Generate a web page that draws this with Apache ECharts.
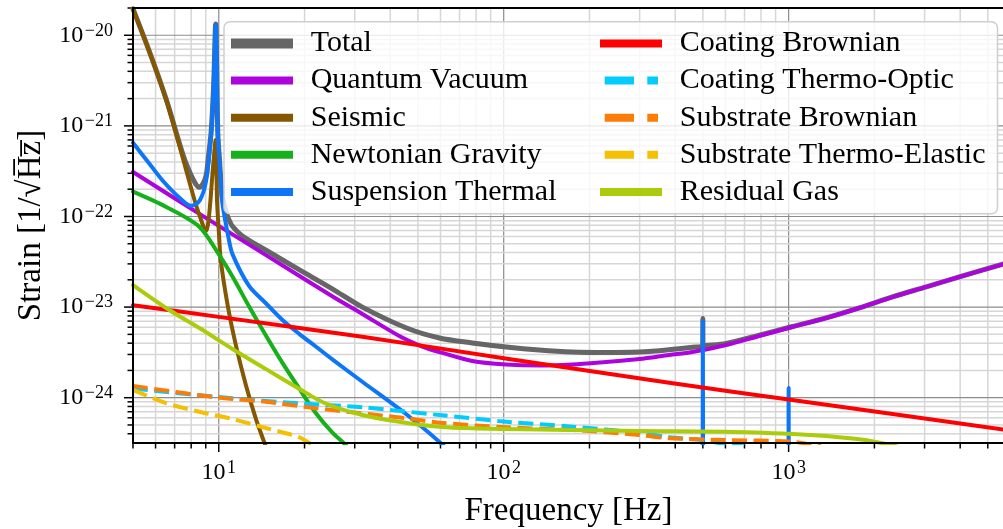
<!DOCTYPE html>
<html>
<head>
<meta charset="utf-8">
<script src="https://cdn.jsdelivr.net/npm/echarts@6/dist/echarts.min.js"></script>
<style>
  html, body { margin: 0; padding: 0; background: #ffffff; }
  #chart { width: 1003px; height: 529px; }
</style>
</head>
<body>
<div id="chart"></div>
<script>
// Noise budget: strain amplitude spectral density of each noise source [1/sqrt(Hz)] vs frequency [Hz]
const FONT = "'Liberation Serif', 'DejaVu Serif', serif";

const freqRange = [5, 5700];
const strainRange = [Math.pow(10, -24.5), 2e-20];

// Axis ticks (log scale): decades and the 2..9 subdivisions
const majorFreqTicks = [10, 100, 1000];
const minorFreqTicks = [5, 6, 7, 8, 9, 20, 30, 40, 50, 60, 70, 80, 90,
  200, 300, 400, 500, 600, 700, 800, 900, 2000, 3000, 4000, 5000];
const majorStrainTicks = [1e-24, 1e-23, 1e-22, 1e-21, 1e-20];
const minorStrainTicks = [4e-25, 5e-25, 6e-25, 7e-25, 8e-25, 9e-25,
  2e-24, 3e-24, 4e-24, 5e-24, 6e-24, 7e-24, 8e-24, 9e-24,
  2e-23, 3e-23, 4e-23, 5e-23, 6e-23, 7e-23, 8e-23, 9e-23,
  2e-22, 3e-22, 4e-22, 5e-22, 6e-22, 7e-22, 8e-22, 9e-22,
  2e-21, 3e-21, 4e-21, 5e-21, 6e-21, 7e-21, 8e-21, 9e-21, 2e-20];

// Noise curves: [frequency, strain]; '-' breaks a line
const total = [[5, 1.96e-20], [5.71, 6.6e-21], [6.54, 1.96e-21], [7.28, 6.4e-22], [7.68, 3.85e-22],
  [8.22, 2.4e-22], [8.55, 2.1e-22], [8.8, 2.3e-22], [9.03, 2.85e-22], [9.2, 4.6e-22],
  [9.4, 8.5e-22], [9.6, 2.95e-21], [9.75, 1.33e-20], [9.92, 8.5e-22], [10.05, 4.4e-22],
  [10.28, 1.7e-22], [10.56, 1.2e-22], [10.8, 9.6e-23], [11.17, 7.8e-23], [12.1, 6.1e-23],
  [14.6, 4.27e-23], [19.2, 2.57e-23], [25.1, 1.58e-23], [31.9, 1.0e-23], [45.6, 5.88e-24],
  [59.5, 4.56e-24], [77.6, 4.02e-24], [102, 3.63e-24], [133, 3.36e-24], [174, 3.19e-24],
  [229, 3.15e-24], [299, 3.19e-24], [352, 3.3e-24], [459, 3.6e-24], [499.3, 3.72e-24],
  [500, 7.5e-24], [500.7, 3.73e-24], [604, 3.98e-24], [789, 4.9e-24], [1030, 6.1e-24],
  [1355, 7.62e-24], [1770, 9.82e-24], [2312, 1.295e-23], [3043, 1.675e-23], [3972, 2.155e-23],
  [5700, 3.0e-23]];

const quantumVacuum = [[5, 3.1e-22], [8.55, 1.07e-22], [14.6, 3.77e-23], [25.1, 1.31e-23],
  [31.9, 8.4e-24], [43, 4.8e-24], [51.8, 3.67e-24], [59.5, 3.19e-24], [77.6, 2.54e-24],
  [102, 2.32e-24], [133, 2.26e-24], [174, 2.32e-24], [229, 2.48e-24], [299, 2.67e-24],
  [381, 2.96e-24], [459, 3.19e-24], [604, 3.82e-24], [789, 4.8e-24], [1030, 6.03e-24],
  [1355, 7.57e-24], [1770, 9.77e-24], [2312, 1.29e-23], [3043, 1.67e-23], [3972, 2.15e-23],
  [5700, 2.99e-23]];

const seismic = [[5, 1.95e-20], [5.71, 6.55e-21], [6.54, 1.93e-21], [7.28, 6.0e-22],
  [7.68, 3.26e-22], [8.22, 1.52e-22], [8.55, 1.04e-22], [9.02, 6.9e-23], [9.24, 1.0e-22],
  [9.5, 2.9e-22], [9.75, 7.0e-22], [9.86, 1.5e-22], [10.02, 6.3e-23], [10.16, 3.3e-23],
  [10.73, 1.07e-23], [11.47, 3.85e-24], [12.44, 1.39e-24], [13.48, 5.9e-25],
  [14.43, 3.24e-25], [15.3, 2.0e-25]];

const newtonianGravity = [[5, 1.88e-22], [6.52, 1.28e-22], [8.54, 7.71e-23], [10.03, 3.76e-23],
  [11.17, 2.17e-23], [12.79, 1.01e-23], [14.6, 4.92e-24], [16.73, 2.42e-24], [19.1, 1.28e-24],
  [21.9, 6.78e-25], [25.1, 4.08e-25], [27.9, 3.0e-25], [30, 2.2e-25]];

const suspensionThermal = [[5, 6.5e-22], [5.71, 3.82e-22], [6.36, 2.48e-22], [7.28, 1.61e-22],
  [8.0, 1.31e-22], [8.55, 1.48e-22], [9.03, 2.48e-22], [9.4, 8.2e-22], [9.6, 2.9e-21],
  [9.75, 1.31e-20], [9.92, 8.2e-22], [10.05, 4.3e-22], [10.28, 1.45e-22], [10.8, 6.0e-23],
  [11.17, 3.84e-23], [12.79, 1.7e-23], [14.6, 1.11e-23], [16.73, 7.2e-24], [19.1, 5.1e-24],
  [21.9, 3.67e-24], [25.1, 2.63e-24], [31.9, 1.5e-24], [45.4, 6.6e-25],
  [59.5, 3.25e-25], [70, 2.0e-25], ['-', '-'],
  [499.3, 2.8e-25], [500, 6.9e-24], [500.7, 2.8e-25], ['-', '-'],
  [999.3, 2.8e-25], [1000, 1.28e-24], [1000.7, 2.8e-25]];

const coatingBrownian = [[5, 1.05e-23], [10, 7.8e-24], [31.9, 4.71e-24], [100, 2.73e-24],
  [381, 1.46e-24], [1000, 9.55e-25], [5700, 4.45e-25]];

const coatingThermoOptic = [[5, 1.26e-24], [11.17, 9.84e-25], [19.1, 8.67e-25], [31.9, 7.83e-25],
  [59.5, 6.44e-25], [102, 5.43e-25], [174, 4.79e-25], [299, 4.11e-25], [381, 3.66e-25],
  [500, 3.41e-25], [570, 3.16e-25], [700, 2.9e-25]];

const substrateBrownian = [[5, 1.35e-24], [9.76, 1.01e-24], [14.6, 9.03e-25], [21.9, 7.64e-25],
  [29.4, 6.9e-25], [45.4, 5.93e-25], [59.5, 5.3e-25], [102, 4.71e-25], [174, 4.4e-25],
  [299, 3.88e-25], [381, 3.57e-25], [604, 3.41e-25], [1030, 3.27e-25], [1300, 2.9e-25]];

const substrateThermoElastic = [[5, 1.22e-24], [6.52, 8.73e-25], [8.54, 7.0e-25], [11.17, 5.82e-25],
  [14.6, 4.63e-25], [19.1, 3.68e-25], [20.8, 3.16e-25], [24, 2.6e-25]];

const residualGas = [[5, 1.75e-23], [6.7, 9.29e-24], [8.55, 5.88e-24], [11.17, 3.45e-24],
  [14.6, 2.08e-24], [19.2, 1.25e-24], [23.5, 8.74e-25], [31.9, 6.44e-25], [45.6, 5.26e-25],
  [59.5, 4.79e-25], [77.6, 4.59e-25], [102, 4.51e-25], [174, 4.4e-25], [299, 4.29e-25],
  [604, 4.22e-25], [1030, 3.98e-25], [1355, 3.78e-25], [1770, 3.47e-25], [2000, 3.27e-25],
  [2400, 2.9e-25]];

const legendLeftNames = ['Total', 'Quantum Vacuum', 'Seismic', 'Newtonian Gravity', 'Suspension Thermal'];
const legendRightNames = ['Coating Brownian', 'Coating Thermo-Optic', 'Substrate Brownian',
  'Substrate Thermo-Elastic', 'Residual Gas'];

const DASH = [15, 6.5];
const LEGEND_DASH = [0, 4.7, 29.3, 13.3, 10.7, 10];

const curves = [
  { name: 'Total', data: total, color: '#666666', width: 5 },
  { name: 'Quantum Vacuum', data: quantumVacuum, color: '#ad03de', width: 4 },
  { name: 'Seismic', data: seismic, color: '#855700', width: 4 },
  { name: 'Newtonian Gravity', data: newtonianGravity, color: '#15b01a', width: 4 },
  { name: 'Suspension Thermal', data: suspensionThermal, color: '#0d75f8', width: 4 },
  { name: 'Coating Brownian', data: coatingBrownian, color: '#fe0002', width: 4 },
  { name: 'Coating Thermo-Optic', data: coatingThermoOptic, color: '#02ccfe', width: 4, dashed: true },
  { name: 'Substrate Brownian', data: substrateBrownian, color: '#fb7d07', width: 4, dashed: true },
  { name: 'Substrate Thermo-Elastic', data: substrateThermoElastic, color: '#f5bf03', width: 4, dashed: true },
  { name: 'Residual Gas', data: residualGas, color: '#aacc0a', width: 4 }
];

function powerLabel(value) {
  const e = Math.log10(value);
  if (!isFinite(e)) return '';
  const k = Math.round(e);
  if (Math.abs(e - k) > 1e-6) return '';
  const sup = k < 0 ? '\u2212' + (-k) : String(k);
  return '{b|10}{s|' + sup + '}';
}

const labelRich = {
  b: { fontFamily: FONT, fontSize: 24, lineHeight: 27, color: '#000' },
  s: { fontFamily: FONT, fontSize: 18, lineHeight: 12, verticalAlign: 'top', color: '#000', padding: [0, 0, 0, 1.5] }
};

const MAJOR_GRID = '#8c8c8c';
const MINOR_GRID = '#d6d6d6';

// Grid lines and outward ticks, placed through the axis scales
function freqGridItem(params, api) {
  const cs = params.coordSys;
  const x = api.coord([api.value(0), strainRange[1]])[0];
  const major = api.value(2) === 1;
  const bottom = cs.y + cs.height;
  const children = [];
  if (x > cs.x + 1 && x < cs.x + cs.width - 1) {
    children.push({ type: 'line', shape: { x1: x, y1: cs.y, x2: x, y2: bottom },
      style: { stroke: major ? MAJOR_GRID : MINOR_GRID, lineWidth: major ? 1.2 : 1.5 } });
  }
  children.push({ type: 'line', shape: { x1: x, y1: bottom, x2: x, y2: bottom + (major ? 9 : 5.5) },
    style: { stroke: '#000', lineWidth: 1.5 } });
  return { type: 'group', children: children };
}

function strainGridItem(params, api) {
  const cs = params.coordSys;
  const y = api.coord([freqRange[0], api.value(1)])[1];
  const major = api.value(2) === 1;
  const children = [];
  if (y > cs.y + 1 && y < cs.y + cs.height - 1) {
    children.push({ type: 'line', shape: { x1: cs.x, y1: y, x2: cs.x + cs.width, y2: y },
      style: { stroke: major ? MAJOR_GRID : MINOR_GRID, lineWidth: major ? 1.2 : 1.5 } });
  }
  children.push({ type: 'line', shape: { x1: cs.x, y1: y, x2: cs.x - (major ? 9 : 5.5), y2: y },
    style: { stroke: '#000', lineWidth: 1.5 } });
  return { type: 'group', children: children };
}

const freqGridData = minorFreqTicks.map(v => [v, strainRange[1], 0])
  .concat(majorFreqTicks.map(v => [v, strainRange[1], 1]));
const strainGridData = minorStrainTicks.map(v => [freqRange[0], v, 0])
  .concat(majorStrainTicks.map(v => [freqRange[0], v, 1]));

const series = [
  { type: 'custom', name: 'freq-grid', data: freqGridData, renderItem: freqGridItem,
    encode: { x: 0, y: 1 }, clip: false, silent: true, z: 1 },
  { type: 'custom', name: 'strain-grid', data: strainGridData, renderItem: strainGridItem,
    encode: { x: 0, y: 1 }, clip: false, silent: true, z: 1 }
].concat(curves.map(c => ({
  type: 'line',
  name: c.name,
  data: c.data,
  symbol: 'none',
  showSymbol: false,
  smooth: 0.3,
  connectNulls: false,
  clip: true,
  z: 2,
  color: c.color,
  lineStyle: { color: c.color, width: c.width, type: c.dashed ? DASH : 'solid',
    cap: c.dashed ? 'butt' : 'round', join: 'round' }
})));

function legendItems(names) {
  return names.map(n => {
    const c = curves.find(k => k.name === n);
    return {
      name: n,
      itemStyle: { opacity: 0, color: 'rgba(0,0,0,0)', borderWidth: 0 },
      lineStyle: { width: n === 'Total' ? 10 : 8, type: c.dashed ? LEGEND_DASH : 'solid', cap: 'butt' }
    };
  });
}

function legendBlock(names, left) {
  return {
    orient: 'vertical',
    left: left,
    top: 28.5,
    padding: 0,
    itemGap: 7.1,
    itemWidth: 62,
    itemHeight: 30,
    selectedMode: false,
    z: 4,
    data: legendItems(names),
    formatter: name => '{t|' + name + '}',
    textStyle: {
      rich: { t: { fontFamily: FONT, fontSize: 30, lineHeight: 30, color: '#000', padding: [0, 0, 0, 12.7] } }
    }
  };
}

const chart = echarts.init(document.getElementById('chart'), null, { renderer: 'canvas' });
chart.setOption({
  animation: false,
  backgroundColor: '#ffffff',
  grid: {
    left: 133, top: 8, width: 871, height: 435,
    show: true, borderColor: '#000', borderWidth: 2, backgroundColor: 'transparent',
    containLabel: false, outerBoundsMode: 'none', z: 5
  },
  xAxis: {
    type: 'log', logBase: 10, min: freqRange[0], max: freqRange[1],
    name: 'Frequency [Hz]', nameLocation: 'middle', nameGap: 52, nameMoveOverlap: false,
    nameTextStyle: { fontFamily: FONT, fontSize: 33, color: '#000' },
    axisLine: { show: false }, axisTick: { show: false }, splitLine: { show: false },
    minorTick: { show: false }, minorSplitLine: { show: false },
    axisLabel: { formatter: powerLabel, margin: 16, rich: labelRich, color: '#000' }
  },
  yAxis: {
    type: 'log', logBase: 10, min: strainRange[0], max: strainRange[1],
    name: 'Strain [1/\u221AH\u0305z\u0305]', nameLocation: 'middle', nameGap: 85, nameMoveOverlap: false,
    nameTextStyle: { fontFamily: FONT, fontSize: 33, color: '#000' },
    axisLine: { show: false }, axisTick: { show: false }, splitLine: { show: false },
    minorTick: { show: false }, minorSplitLine: { show: false },
    axisLabel: { formatter: powerLabel, margin: 20, rich: labelRich, color: '#000' }
  },
  legend: [legendBlock(legendLeftNames, 226), legendBlock(legendRightNames, 596)],
  graphic: [{
    type: 'rect', z: 3, silent: true,
    shape: { x: 224, y: 21.7, width: 773.5, height: 192, r: 6 },
    style: { fill: 'rgba(255,255,255,0.8)', stroke: '#cfcfcf', lineWidth: 1.5 }
  }],
  series: series
});
</script>
</body>
</html>
